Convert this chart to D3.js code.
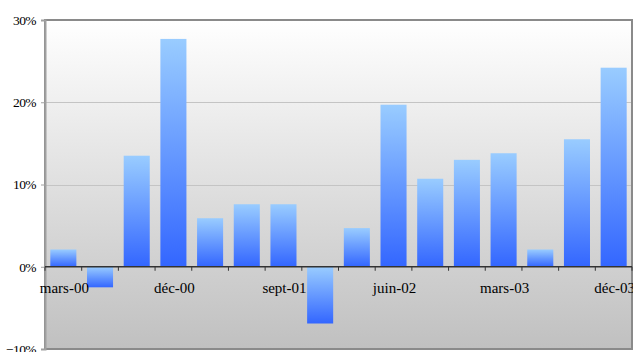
<!DOCTYPE html>
<html>
<head>
<meta charset="utf-8">
<script src="https://cdn.jsdelivr.net/npm/d3@7/dist/d3.min.js"></script>
<style>
  html, body { margin: 0; padding: 0; background: #fff; }
  svg { display: block; }
  svg text { font-family: "Liberation Serif", "DejaVu Serif", serif !important; fill: #000; }
</style>
</head>
<body>
<svg id="chart" width="633" height="352"></svg>
<script>
// Quarterly change, March 2000 – December 2003
const quarters = [
  "mars-00", "juin-00", "sept-00", "déc-00",
  "mars-01", "juin-01", "sept-01", "déc-01",
  "mars-02", "juin-02", "sept-02", "déc-02",
  "mars-03", "juin-03", "sept-03", "déc-03"
];
const values = [
  0.021, -0.025, 0.135, 0.277,
  0.059, 0.076, 0.076, -0.069,
  0.047, 0.197, 0.107, 0.130,
  0.138, 0.021, 0.155, 0.242
];
const yTicks = [-0.1, 0, 0.1, 0.2, 0.3];
const labelledQuarters = ["mars-00", "déc-00", "sept-01", "juin-02", "mars-03", "déc-03"];

const svg = d3.select("#chart");
const plot = { left: 45, right: 632, top: 20, bottom: 349 };

const x = d3.scaleBand()
  .domain(quarters)
  .range([plot.left, plot.right])
  .paddingInner(0.29)
  .paddingOuter(0.145);

const y = d3.scaleLinear()
  .domain([-0.1, 0.3])
  .range([plot.bottom, plot.top]);

const defs = svg.append("defs");

// Plot background: white at the top fading to grey at the bottom
const bg = defs.append("linearGradient")
  .attr("id", "plotBg").attr("x1", 0).attr("y1", 0).attr("x2", 0).attr("y2", 1);
bg.append("stop").attr("offset", "0%").attr("stop-color", "#ffffff");
bg.append("stop").attr("offset", "100%").attr("stop-color", "#c0c0c0");

// Each bar runs from light blue at its top edge to deep blue at its bottom edge
const barGrad = defs.append("linearGradient")
  .attr("id", "barFill").attr("x1", 0).attr("y1", 0).attr("x2", 0).attr("y2", 1);
barGrad.append("stop").attr("offset", "0%").attr("stop-color", "#99ccff");
barGrad.append("stop").attr("offset", "100%").attr("stop-color", "#3366ff");

svg.append("rect")
  .attr("x", plot.left).attr("y", plot.top)
  .attr("width", plot.right - plot.left).attr("height", plot.bottom - plot.top)
  .attr("fill", "url(#plotBg)");

// Horizontal gridlines
svg.append("g")
  .selectAll("line")
  .data(yTicks.filter(v => v > 0 && v < 0.3))
  .join("line")
  .attr("x1", plot.left).attr("x2", plot.right)
  .attr("y1", d => Math.round(y(d)) + 0.5).attr("y2", d => Math.round(y(d)) + 0.5)
  .attr("stroke", "#c4c4c4").attr("stroke-width", 1);

// Bars
svg.append("g")
  .selectAll("rect")
  .data(quarters)
  .join("rect")
  .attr("x", (d) => x(d))
  .attr("width", x.bandwidth())
  .attr("y", (d, i) => y(Math.max(0, values[i])))
  .attr("height", (d, i) => Math.abs(y(values[i]) - y(0)))
  .attr("fill", "url(#barFill)");

// Plot frame
svg.append("rect")
  .attr("x", plot.left).attr("y", plot.top)
  .attr("width", plot.right - plot.left).attr("height", plot.bottom - plot.top)
  .attr("fill", "none").attr("stroke", "#8a8a8a").attr("stroke-width", 2);

// Y axis
const yAxis = d3.axisLeft(y)
  .tickValues(yTicks)
  .tickFormat(d3.format(".0%"))
  .tickSize(4)
  .tickPadding(5);
const gy = svg.append("g")
  .attr("transform", `translate(${plot.left},0)`)
  .call(yAxis)
  .attr("font-family", "Liberation Serif, serif");
gy.select(".domain").attr("stroke", "#a0a0a0").attr("stroke-width", 2);
gy.selectAll(".tick line").attr("stroke", "#a0a0a0");
gy.selectAll(".tick text")
  .attr("font-size", 13.5)
  .attr("letter-spacing", -0.6);

// X axis on the zero line, ticks at category boundaries
const zeroY = y(0);
const step = x.step();
svg.append("line")
  .attr("x1", plot.left).attr("x2", plot.right)
  .attr("y1", zeroY).attr("y2", zeroY)
  .attr("stroke", "#333").attr("stroke-width", 1.5);
svg.append("g")
  .selectAll("line")
  .data(d3.range(quarters.length + 1))
  .join("line")
  .attr("x1", i => plot.left + i * step).attr("x2", i => plot.left + i * step)
  .attr("y1", zeroY).attr("y2", zeroY + 4)
  .attr("stroke", "#333").attr("stroke-width", 1);

svg.append("g")
  .attr("font-family", "Liberation Serif, serif")
  .selectAll("text")
  .data(labelledQuarters)
  .join("text")
  .attr("x", d => x(d) + x.bandwidth() / 2 + 1)
  .attr("y", zeroY + 26)
  .attr("text-anchor", "middle")
  .attr("font-size", 15)
  .text(d => d);
</script>
</body>
</html>
